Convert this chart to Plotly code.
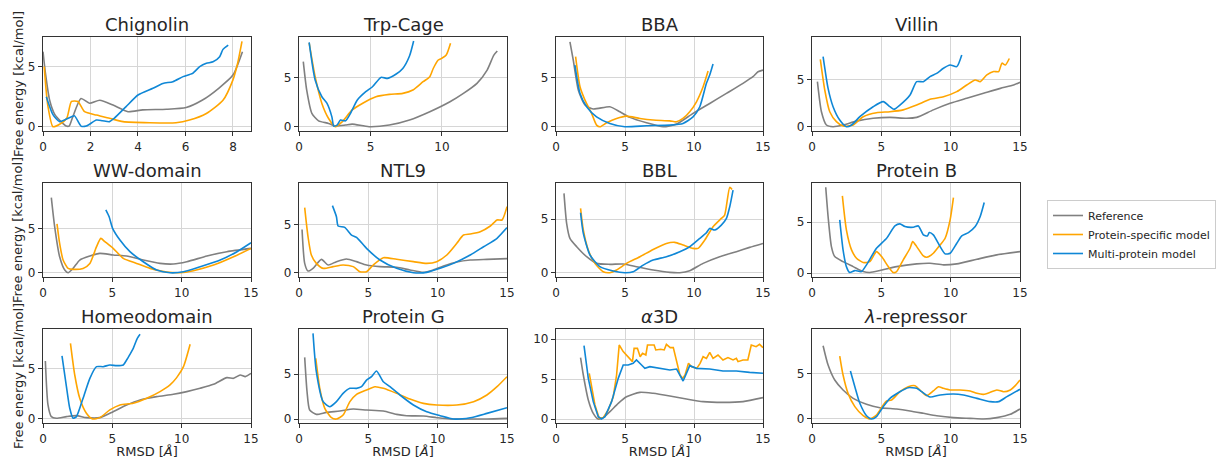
import plotly.graph_objects as go

W, H = 1224, 459

# ---------------- data ----------------
TITLES = ["Chignolin", "Trp-Cage", "BBA", "Villin",
          "WW-domain", "NTL9", "BBL", "Protein B",
          "Homeodomain", "Protein G", "<i>α</i>3D", "<i>λ</i>-repressor"]
SERIES = ["Reference", "Protein-specific model", "Multi-protein model"]

CHIG_REF_X = [0, 0.1, 0.28, 0.5, 0.77, 0.98, 1.1, 1.25, 1.6, 1.96, 2.39, 2.95, 3.58, 4.2, 5.2, 6.03, 6.7, 7.4, 8.0, 8.4]
CHIG_REF_Y = [6.25, 4.5, 2.2, 1.0, 0.4, 0.05, 0.05, 0.8, 2.35, 1.95, 2.2, 1.8, 1.25, 1.4, 1.45, 1.6, 2.2, 3.2, 4.3, 6.25]
CHIG_PS_X = [0.05, 0.2, 0.42, 0.7, 1.0, 1.2, 1.47, 1.75, 2.25, 2.8, 3.37, 4.5, 5.6, 6.17, 6.88, 7.58, 8.0, 8.2, 8.38]
CHIG_PS_Y = [5.0, 1.8, 0.0, 0.2, 0.7, 2.1, 2.1, 1.25, 0.97, 0.7, 0.42, 0.33, 0.33, 0.55, 1.1, 2.2, 3.9, 5.3, 7.1]
CHIG_MP_X = [0.14, 0.42, 0.7, 0.95, 1.2, 1.33, 1.6, 1.82, 2.25, 2.5, 2.8, 3.0, 3.5, 4.0, 4.63, 5.05, 5.47, 5.9, 6.3, 6.6, 6.88, 7.16, 7.44, 7.58, 7.8]
CHIG_MP_Y = [2.5, 1.0, 0.42, 0.6, 0.83, 0.9, 0.05, 0.05, 0.55, 0.5, 0.42, 0.7, 1.67, 2.64, 3.2, 3.6, 3.75, 4.17, 4.44, 5.0, 5.28, 5.4, 5.83, 6.44, 6.8]

TRP_REF_X = [0.3, 0.54, 0.9, 1.37, 2.07, 2.55, 3.25, 3.72, 4.9, 6.32, 7.73, 9.15, 10.56, 11.5, 12.45, 13.16, 13.63, 13.87]
TRP_REF_Y = [6.6, 3.7, 1.35, 0.6, 0.34, 0.07, 0.17, 0.27, 0.0, 0.17, 0.68, 1.52, 2.53, 3.38, 4.4, 5.74, 7.26, 7.67]
TRP_PS_X = [0.71, 1.13, 1.6, 2.07, 2.55, 3.02, 3.72, 4.43, 5.38, 6.32, 7.26, 7.97, 8.68, 9.15, 9.39, 9.74, 9.98, 10.3, 10.6]
TRP_PS_Y = [8.5, 5.07, 2.36, 0.84, 0.0, 0.5, 1.7, 2.36, 3.04, 3.28, 3.38, 3.72, 4.56, 5.07, 5.9, 6.76, 6.93, 7.26, 8.45]
TRP_MP_X = [0.71, 1.13, 1.6, 1.96, 2.3, 2.43, 2.66, 2.9, 3.25, 3.6, 4.08, 4.67, 5.14, 5.73, 6.2, 6.8, 7.26, 7.73, 8.02]
TRP_MP_Y = [8.55, 4.73, 3.04, 2.36, 1.0, 0.07, 0.17, 0.68, 0.6, 1.35, 2.7, 3.55, 4.05, 5.0, 4.9, 5.34, 5.9, 7.16, 8.68]

BBA_REF_X = [1.01, 1.25, 1.62, 2.1, 2.7, 3.9, 4.63, 5.35, 6.56, 7.76, 8.73, 9.93, 11.14, 12.35, 13.55, 14.27, 14.64, 15.0]
BBA_REF_Y = [8.6, 6.76, 3.7, 2.2, 1.8, 2.03, 1.52, 0.95, 0.4, 0.0, 0.27, 1.35, 2.36, 3.38, 4.4, 5.07, 5.57, 5.74]
BBA_PS_X = [1.42, 1.74, 2.1, 2.58, 2.94, 3.18, 3.67, 4.39, 5.1, 6.08, 7.04, 8.25, 8.73, 9.2, 9.69, 10.18, 10.66, 11.02]
BBA_PS_Y = [7.1, 4.05, 2.7, 1.35, 0.17, 0.0, 0.4, 0.84, 1.08, 0.84, 0.68, 0.6, 0.5, 0.84, 1.52, 2.53, 4.05, 5.64]
BBA_MP_X = [1.37, 1.74, 2.22, 2.94, 3.9, 4.99, 6.56, 8.25, 9.2, 9.93, 10.42, 10.9, 11.14, 11.38]
BBA_MP_Y = [6.25, 3.38, 2.03, 1.0, 0.34, 0.0, 0.1, 0.17, 0.34, 1.0, 2.03, 4.4, 5.24, 6.35]

VIL_REF_X = [0.39, 0.68, 1.04, 1.52, 2.24, 3.2, 4.41, 5.62, 6.82, 7.55, 8.75, 9.96, 11.16, 12.37, 13.58, 14.54, 15.0]
VIL_REF_Y = [4.82, 1.6, 0.18, 0.0, 0.18, 0.6, 0.9, 1.0, 0.9, 1.0, 1.8, 2.5, 3.04, 3.57, 4.1, 4.46, 4.75]
VIL_PS_X = [0.6, 0.92, 1.28, 1.76, 2.24, 2.97, 3.69, 4.65, 5.62, 6.58, 7.55, 8.51, 9.48, 10.44, 11.16, 11.77, 12.13, 12.61, 13.1, 13.46, 13.7, 13.94, 14.23]
VIL_PS_Y = [7.2, 3.93, 1.6, 0.54, 0.07, 0.18, 1.07, 1.5, 1.6, 1.8, 2.32, 2.93, 3.2, 3.75, 4.46, 5.0, 4.82, 5.54, 5.9, 5.9, 6.8, 6.6, 7.3]
VIL_MP_X = [0.8, 1.16, 1.52, 2.0, 2.48, 2.85, 3.45, 4.41, 5.14, 5.62, 5.9, 6.34, 7.07, 7.55, 8.03, 8.51, 8.99, 9.48, 9.96, 10.44, 10.8]
VIL_MP_Y = [7.5, 4.1, 2.14, 0.71, 0.0, 0.18, 1.07, 2.14, 2.68, 2.14, 1.86, 2.32, 3.4, 4.82, 4.82, 5.36, 5.7, 6.25, 6.6, 6.43, 7.68]

WW_REF_X = [0.6, 0.84, 1.2, 1.57, 1.81, 2.17, 2.65, 3.38, 4.1, 5.06, 6.03, 7.23, 8.44, 9.4, 10.37, 11.82, 13.26, 15.0]
WW_REF_Y = [8.46, 5.2, 1.8, 0.3, 0.0, 0.49, 1.43, 1.88, 2.18, 2.0, 1.88, 1.43, 1.05, 0.98, 1.24, 1.88, 2.37, 2.74]
WW_PS_X = [1.01, 1.2, 1.45, 1.81, 2.17, 2.89, 3.38, 3.86, 4.17, 4.46, 5.06, 5.79, 6.75, 7.72, 8.92, 9.89, 10.85, 12.3, 13.74, 15.0]
WW_PS_Y = [5.5, 3.3, 1.43, 0.49, 0.38, 0.49, 1.05, 2.93, 3.87, 3.5, 2.74, 1.62, 1.05, 0.49, 0.08, 0.0, 0.23, 0.86, 1.8, 2.74]
WW_MP_X = [4.53, 4.77, 5.02, 5.55, 6.27, 7.23, 8.2, 9.16, 10.13, 11.34, 12.78, 13.99, 15.0]
WW_MP_Y = [7.07, 6.3, 5.0, 3.68, 2.37, 1.24, 0.3, 0.0, 0.11, 0.68, 1.43, 2.37, 3.38]

NTL_REF_X = [0.22, 0.41, 0.65, 1.01, 1.62, 2.1, 2.7, 3.42, 4.15, 4.87, 5.84, 7.04, 8.0, 8.97, 9.69, 10.42, 11.38, 12.35, 13.55, 15.0]
NTL_REF_Y = [4.5, 0.97, 0.17, 0.45, 1.39, 0.8, 1.15, 1.42, 1.15, 0.8, 0.63, 0.56, 0.28, 0.03, 0.28, 0.69, 1.11, 1.32, 1.39, 1.46]
NTL_PS_X = [0.41, 0.65, 0.89, 1.25, 1.74, 2.46, 3.18, 3.91, 4.39, 4.87, 5.35, 6.08, 7.04, 8.25, 9.21, 9.93, 10.66, 11.38, 11.86, 12.35, 13.07, 13.8, 14.28, 14.64, 15.0]
NTL_PS_Y = [6.77, 3.75, 1.84, 0.97, 0.45, 0.63, 0.8, 0.63, 0.1, 0.1, 0.8, 1.56, 1.39, 1.15, 0.97, 1.15, 1.84, 3.06, 3.92, 4.03, 4.27, 4.86, 5.49, 5.49, 6.88]
NTL_MP_X = [2.41, 2.7, 2.82, 3.3, 3.79, 4.15, 4.87, 5.84, 7.04, 8.25, 9.21, 10.18, 11.14, 12.35, 13.31, 14.28, 15.0]
NTL_MP_Y = [6.98, 5.83, 4.86, 4.72, 3.92, 3.68, 2.53, 1.32, 0.45, 0.0, 0.03, 0.45, 0.97, 1.84, 2.7, 3.58, 4.69]

BBL_REF_X = [0.58, 0.77, 1.01, 1.5, 2.22, 2.94, 3.9, 4.87, 5.84, 7.04, 8.25, 8.97, 9.69, 10.66, 11.86, 13.07, 14.03, 15.0]
BBL_REF_Y = [7.39, 4.6, 3.2, 2.42, 1.49, 0.87, 0.78, 0.81, 0.56, 0.25, 0.03, 0.0, 0.19, 0.87, 1.49, 1.96, 2.36, 2.73]
BBL_PS_X = [1.78, 1.98, 2.34, 2.82, 3.42, 3.9, 4.39, 5.11, 6.08, 7.04, 8.0, 8.61, 9.21, 9.93, 10.3, 10.78, 11.38, 11.98, 12.22, 12.59, 12.76]
BBL_PS_Y = [6.0, 3.98, 2.11, 0.87, 0.09, 0.0, 0.25, 0.87, 1.49, 2.17, 2.73, 2.83, 2.58, 2.27, 2.27, 3.04, 4.29, 5.06, 5.37, 7.95, 7.76]
BBL_MP_X = [1.78, 1.98, 2.46, 3.18, 4.15, 4.99, 5.59, 6.32, 7.04, 8.0, 8.97, 9.69, 10.42, 10.9, 11.14, 11.5, 11.98, 12.35, 12.59, 12.83]
BBL_MP_Y = [5.59, 3.66, 1.65, 0.56, 0.16, 0.0, 0.09, 0.71, 1.18, 1.49, 1.96, 2.42, 3.2, 3.73, 4.13, 3.98, 4.44, 5.06, 6.15, 7.7]

PB_REF_X = [0.99, 1.16, 1.4, 1.64, 2.24, 2.97, 3.69, 4.17, 4.9, 6.1, 7.55, 8.51, 9.48, 10.44, 11.89, 13.33, 15.0]
PB_REF_Y = [8.43, 5.56, 2.61, 1.63, 1.14, 0.65, 0.16, 0.07, 0.26, 0.65, 0.92, 0.98, 0.82, 0.92, 1.37, 1.8, 2.12]
PB_PS_X = [2.19, 2.48, 2.85, 3.21, 3.69, 4.17, 4.65, 5.02, 5.5, 5.86, 6.1, 6.58, 7.07, 7.26, 7.55, 8.03, 8.27, 8.75, 9.24, 9.6, 9.96, 10.2]
PB_PS_Y = [7.58, 4.25, 2.29, 1.47, 1.05, 1.14, 2.12, 1.63, 0.65, 0.07, 0.16, 1.31, 2.45, 3.1, 2.61, 1.7, 1.57, 1.96, 2.78, 3.43, 5.23, 7.42]
PB_MP_X = [2.0, 2.24, 2.48, 2.72, 3.09, 3.57, 3.93, 4.65, 5.38, 5.98, 6.34, 6.7, 7.31, 7.67, 8.03, 8.32, 8.46, 8.75, 9.24, 9.6, 9.96, 10.44, 10.8, 11.28, 11.77, 12.13, 12.42]
PB_MP_Y = [5.23, 2.29, 0.65, 0.07, 0.26, 0.16, 0.82, 2.45, 3.43, 4.64, 4.84, 4.58, 4.51, 4.64, 3.76, 3.66, 3.99, 3.76, 2.61, 1.9, 1.96, 2.94, 3.66, 3.99, 4.58, 5.56, 6.93]

HD_REF_X = [0.17, 0.36, 0.6, 0.96, 1.69, 2.41, 3.13, 4.1, 5.06, 6.03, 7.0, 8.2, 9.4, 10.37, 11.33, 12.3, 13.26, 13.74, 14.22, 14.59, 15.0]
HD_REF_Y = [5.72, 1.38, 0.23, 0.07, 0.23, 0.33, 0.13, 0.13, 0.72, 1.38, 1.88, 2.2, 2.43, 2.7, 3.03, 3.42, 4.08, 4.01, 4.34, 4.18, 4.5]
HD_PS_X = [1.98, 2.29, 2.65, 3.13, 3.57, 4.1, 4.82, 5.55, 6.51, 7.48, 8.44, 9.16, 9.64, 10.13, 10.61]
HD_PS_Y = [7.47, 4.34, 2.04, 0.56, 0.0, 0.13, 0.89, 1.38, 1.55, 2.04, 2.7, 3.36, 4.08, 5.16, 7.37]
HD_MP_X = [1.37, 1.69, 1.93, 2.17, 2.41, 2.89, 3.38, 3.86, 4.34, 4.82, 5.31, 5.79, 6.03, 6.27, 6.51, 6.8, 7.0]
HD_MP_Y = [6.22, 3.19, 1.05, 0.07, 0.23, 2.04, 4.01, 5.16, 5.16, 5.33, 5.26, 5.33, 5.82, 6.38, 6.97, 7.96, 8.36]

PG_REF_X = [0.41, 0.58, 0.77, 1.25, 1.98, 2.94, 3.91, 4.87, 6.08, 7.04, 7.76, 8.97, 9.93, 10.9, 12.35, 13.55, 15.0]
PG_REF_Y = [6.85, 3.04, 1.0, 0.52, 0.74, 0.89, 1.11, 1.0, 0.89, 0.52, 0.37, 0.33, 0.15, 0.0, 0.0, 0.0, 0.07]
PG_PS_X = [1.21, 1.5, 1.86, 2.34, 2.7, 3.18, 3.67, 4.15, 4.87, 5.47, 6.08, 7.04, 8.0, 8.97, 9.93, 11.38, 12.59, 13.55, 14.28, 15.0]
PG_PS_Y = [6.74, 3.41, 1.19, 0.15, 0.0, 0.44, 1.93, 2.74, 3.22, 3.59, 3.41, 2.85, 2.22, 1.74, 1.56, 1.56, 1.93, 2.67, 3.59, 4.7]
PG_MP_X = [1.01, 1.25, 1.74, 2.22, 2.7, 3.18, 3.67, 4.15, 4.51, 4.87, 5.23, 5.59, 6.08, 6.56, 7.28, 8.25, 9.21, 10.18, 11.14, 12.35, 13.55, 15.0]
PG_MP_Y = [9.52, 5.26, 1.93, 1.37, 1.93, 2.85, 3.41, 3.41, 3.59, 4.33, 4.7, 5.33, 4.15, 3.59, 2.67, 1.56, 0.81, 0.37, 0.0, 0.15, 0.63, 1.26]

A3D_REF_X = [1.78, 1.98, 2.34, 2.7, 3.06, 3.42, 3.91, 4.51, 5.11, 6.08, 7.04, 8.25, 9.45, 10.66, 12.1, 13.55, 15.0]
A3D_REF_Y = [7.67, 5.5, 2.38, 0.71, 0.0, 0.17, 0.92, 1.96, 2.79, 3.33, 3.21, 2.88, 2.5, 2.17, 2.08, 2.17, 2.67]
A3D_PS_X = [2.41, 2.58, 2.82, 3.13, 3.42, 3.79, 4.15, 4.39, 4.58, 4.87, 5.3, 5.54, 5.66, 5.9, 6.1, 6.27, 6.51, 6.63, 7.11, 7.23, 7.59, 7.84, 8.0, 8.28, 8.5, 8.74, 8.98, 9.18, 9.35, 9.6, 9.83, 10.2, 10.44, 10.66, 10.9, 11.14, 11.38, 11.74, 12.1, 12.46, 12.83, 13.07, 13.19, 13.55, 13.9, 14.15, 14.5, 14.75, 15.0]
A3D_PS_Y = [5.71, 4.04, 1.75, 0.08, 0.17, 1.13, 2.79, 5.5, 9.25, 8.42, 7.58, 7.17, 8.83, 8.83, 7.79, 8.21, 8.0, 9.25, 9.25, 8.63, 8.71, 8.63, 9.33, 8.92, 8.92, 7.17, 5.5, 5.08, 5.5, 6.96, 6.54, 6.33, 6.96, 7.79, 7.58, 8.33, 7.58, 8.0, 7.38, 7.67, 7.38, 7.58, 7.17, 7.38, 7.38, 9.25, 9.04, 9.33, 8.92]
A3D_MP_X = [2.03, 2.34, 2.7, 3.06, 3.3, 3.55, 4.03, 4.51, 4.87, 5.23, 5.59, 5.83, 6.2, 6.44, 6.8, 7.52, 8.25, 8.74, 8.98, 9.21, 9.45, 9.69, 10.18, 11.14, 12.1, 13.07, 14.03, 15.0]
A3D_MP_Y = [9.17, 5.08, 2.17, 0.29, 0.0, 0.29, 2.17, 5.08, 6.75, 6.75, 6.96, 7.38, 6.75, 6.33, 6.54, 6.33, 6.13, 6.25, 5.5, 4.75, 5.71, 6.67, 6.33, 6.25, 6.0, 6.0, 5.83, 5.71]

LAM_REF_X = [0.8, 1.16, 1.64, 2.24, 2.97, 3.93, 4.9, 6.1, 7.07, 8.03, 8.99, 10.2, 11.41, 12.37, 13.33, 14.3, 15.0]
LAM_REF_Y = [8.03, 5.91, 4.27, 3.18, 2.26, 1.61, 1.24, 1.09, 0.88, 0.62, 0.36, 0.15, 0.07, 0.0, 0.15, 0.51, 1.09]
LAM_PS_X = [2.0, 2.24, 2.6, 3.09, 3.69, 4.17, 4.65, 5.14, 5.38, 5.74, 6.34, 6.94, 7.43, 7.91, 8.27, 8.75, 9.12, 9.48, 9.96, 10.68, 11.41, 11.89, 12.37, 12.85, 13.33, 13.82, 14.3, 14.66, 15.0]
LAM_PS_Y = [6.9, 4.82, 2.81, 1.35, 0.36, 0.0, 0.44, 1.53, 1.97, 2.08, 2.99, 3.54, 3.65, 2.99, 2.55, 3.07, 3.54, 3.36, 3.18, 3.18, 3.07, 2.81, 2.7, 2.92, 3.18, 2.99, 3.18, 3.65, 4.27]
LAM_MP_X = [2.77, 3.09, 3.45, 3.93, 4.29, 4.65, 5.14, 5.62, 6.34, 6.94, 7.55, 7.91, 8.51, 9.24, 10.2, 10.92, 11.89, 12.85, 13.46, 14.06, 15.0]
LAM_MP_Y = [5.26, 3.54, 1.72, 0.36, 0.0, 0.26, 1.35, 2.26, 2.99, 3.43, 3.36, 2.99, 2.41, 2.63, 2.74, 2.63, 2.26, 1.9, 1.9, 2.45, 3.25]

PANEL_DATA = [
    [(CHIG_REF_X, CHIG_REF_Y), (CHIG_PS_X, CHIG_PS_Y), (CHIG_MP_X, CHIG_MP_Y)],
    [(TRP_REF_X, TRP_REF_Y), (TRP_PS_X, TRP_PS_Y), (TRP_MP_X, TRP_MP_Y)],
    [(BBA_REF_X, BBA_REF_Y), (BBA_PS_X, BBA_PS_Y), (BBA_MP_X, BBA_MP_Y)],
    [(VIL_REF_X, VIL_REF_Y), (VIL_PS_X, VIL_PS_Y), (VIL_MP_X, VIL_MP_Y)],
    [(WW_REF_X, WW_REF_Y), (WW_PS_X, WW_PS_Y), (WW_MP_X, WW_MP_Y)],
    [(NTL_REF_X, NTL_REF_Y), (NTL_PS_X, NTL_PS_Y), (NTL_MP_X, NTL_MP_Y)],
    [(BBL_REF_X, BBL_REF_Y), (BBL_PS_X, BBL_PS_Y), (BBL_MP_X, BBL_MP_Y)],
    [(PB_REF_X, PB_REF_Y), (PB_PS_X, PB_PS_Y), (PB_MP_X, PB_MP_Y)],
    [(HD_REF_X, HD_REF_Y), (HD_PS_X, HD_PS_Y), (HD_MP_X, HD_MP_Y)],
    [(PG_REF_X, PG_REF_Y), (PG_PS_X, PG_PS_Y), (PG_MP_X, PG_MP_Y)],
    [(A3D_REF_X, A3D_REF_Y), (A3D_PS_X, A3D_PS_Y), (A3D_MP_X, A3D_MP_Y)],
    [(LAM_REF_X, LAM_REF_Y), (LAM_PS_X, LAM_PS_Y), (LAM_MP_X, LAM_MP_Y)],
]

X_RANGES = [[0, 8.76], [0, 14.55]] + [[0, 15]] * 10
X_TICKS = [[0, 2, 4, 6, 8], [0, 5, 10]] + [[0, 5, 10, 15]] * 10
Y_RANGES = [[-0.36, 7.47], [-0.43, 9.09], [-0.43, 9.09], [-0.46, 9.6],
            [-0.48, 10.1], [-0.45, 9.34], [-0.4, 8.36], [-0.37, 8.85],
            [-0.4, 8.88], [-0.44, 10.0], [-0.5, 11.25], [-0.44, 9.86]]
Y_TICKS = [[0, 5]] * 10 + [[0, 5, 10], [0, 5]]

# ---------------- style / layout ----------------
COLORS = ["#808080", "#FFA500", "#0F87D6"]
COLS_PX = [(43, 251), (299, 507), (556, 763), (812, 1020)]
ROWS_PX = [(37, 131), (183, 277), (329, 423)]
FONT = "DejaVu Sans"
TXT = "#262626"

fig = go.Figure()
annotations = []
layout = {}

for i, title in enumerate(TITLES):
    r, c = divmod(i, 4)
    sfx = "" if i == 0 else str(i + 1)
    xa, ya = "x" + sfx, "y" + sfx
    x0, x1 = COLS_PX[c]
    y0, y1 = ROWS_PX[r]
    for s, (xs, ys) in enumerate(PANEL_DATA[i]):
        jagged = (i == 10 and s > 0)
        fig.add_trace(go.Scatter(
            x=xs, y=ys, mode="lines", name=SERIES[s],
            line=dict(color=COLORS[s], width=1.6,
                      shape="linear" if jagged else "spline", smoothing=0.6),
            showlegend=(i == 0), legendgroup=SERIES[s],
            xaxis=xa, yaxis=ya))
    axis_common = dict(showline=True, linecolor="#333333", linewidth=1.3, mirror=True,
                       ticks="outside", ticklen=4, tickwidth=1.2, tickcolor="#333333",
                       showgrid=True, gridcolor="#d6d6d6", gridwidth=1, zeroline=False,
                       tickfont=dict(family=FONT, size=12, color=TXT))
    layout["xaxis" + sfx] = dict(axis_common, domain=[x0 / W, x1 / W], anchor=ya,
                                 range=X_RANGES[i], tickvals=X_TICKS[i])
    layout["yaxis" + sfx] = dict(axis_common, domain=[1 - y1 / H, 1 - y0 / H], anchor=xa,
                                 range=Y_RANGES[i], tickvals=Y_TICKS[i])
    if r == 2:
        layout["xaxis" + sfx]["title"] = dict(text="RMSD [<i>Å</i>]", standoff=0,
                                              font=dict(family=FONT, size=13, color=TXT))
    annotations.append(dict(text=title, xref="paper", yref="paper",
                            x=(x0 + x1) / 2 / W, y=1 - (y0 - 0.5) / H,
                            xanchor="center", yanchor="bottom", showarrow=False,
                            font=dict(family=FONT, size=18, color=TXT)))

for (y0, y1) in ROWS_PX:
    annotations.append(dict(text="Free energy [kcal/mol]", xref="paper", yref="paper",
                            x=18 / W, y=1 - (y0 + y1) / 2 / H, textangle=-90,
                            xanchor="center", yanchor="middle", showarrow=False,
                            font=dict(family=FONT, size=13, color=TXT)))

fig.update_layout(
    **layout,
    width=W, height=H,
    margin=dict(l=0, r=0, t=0, b=0, autoexpand=False),
    paper_bgcolor="white", plot_bgcolor="white",
    annotations=annotations,
    showlegend=True,
    legend=dict(x=1047 / W, y=1 - 200 / H, xanchor="left", yanchor="top",
                bgcolor="white", bordercolor="#cccccc", borderwidth=1,
                font=dict(family=FONT, size=11, color=TXT),
                tracegroupgap=0, itemwidth=30),
)

fig.write_html("out.html")
